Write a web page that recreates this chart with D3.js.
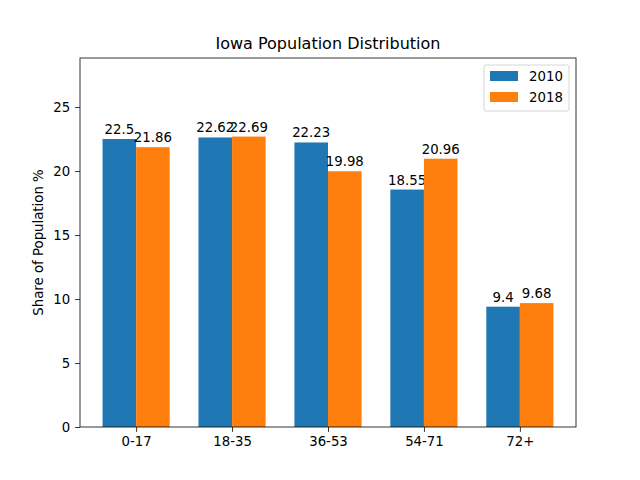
<!DOCTYPE html>
<html>
<head>
<meta charset="utf-8">
<script src="https://cdn.jsdelivr.net/npm/d3@7"></script>
<style>
  body { margin: 0; background: #fff; }
  text { font-family: "DejaVu Sans", sans-serif; }
</style>
</head>
<body>
<svg id="chart" width="640" height="480"></svg>
<script>
const groups = ["0-17", "18-35", "36-53", "54-71", "72+"];
const series = ["2010", "2018"];
const vals2010 = [22.5, 22.62, 22.23, 18.55, 9.4];
const vals2018 = [21.86, 22.69, 19.98, 20.96, 9.68];
const colors = ["#1f77b4", "#ff7f0e"];
const yTicks = [0, 5, 10, 15, 20, 25];

const svg = d3.select("#chart");
const mLeft = 80, mRight = 576, mTop = 58, mBottom = 427;
const barW = 0.35;

let xs = d3.scaleLinear([-0.585, 4.585], [mLeft, mRight]);
let ys = d3.scaleLinear([0, 22.69 * 1.2705], [mBottom, mTop]);

svg.append("rect").attr("width", 640).attr("height", 480).attr("fill", "#fff");

// bars
const allVals = [vals2010, vals2018];
allVals.forEach((vals, si) => {
    const off = si === 0 ? -barW / 2 : barW / 2;
    svg.selectAll(".bar" + si)
        .data(vals)
        .enter()
        .append("rect")
        .attr("class", "bar" + si)
        .attr("x", (d, i) => xs(i + off - barW / 2))
        .attr("width", xs(barW) - xs(0))
        .attr("y", d => ys(d))
        .attr("height", d => ys(0) - ys(d))
        .attr("fill", colors[si]);

    svg.selectAll(".lab" + si)
        .data(vals)
        .enter()
        .append("text")
        .attr("class", "lab" + si)
        .attr("x", (d, i) => xs(i + off))
        .attr("y", d => ys(d) - 5)
        .attr("text-anchor", "middle")
        .attr("font-size", "13.3px")
        .text(d => d);
});

// axes
const xAxis = d3.axisBottom(xs)
    .tickValues(d3.range(groups.length))
    .tickFormat(i => groups[i])
    .tickSize(4.9).tickPadding(4.9).tickSizeOuter(0);
const gx = svg.append("g").attr("transform", `translate(0,${mBottom})`).call(xAxis);

const yAxis = d3.axisLeft(ys)
    .tickValues(yTicks)
    .tickSize(4.9).tickPadding(4.9).tickSizeOuter(0);
const gy = svg.append("g").attr("transform", `translate(${mLeft},0)`).call(yAxis);

[gx, gy].forEach(g => {
    g.select(".domain").remove();
    g.selectAll("text").attr("font-size", "13.3px").attr("font-family", "DejaVu Sans").attr("fill", "#000");
    g.selectAll("line").attr("stroke", "#000").attr("stroke-width", 0.8);
});

// frame
svg.append("rect")
    .attr("x", mLeft).attr("y", mTop)
    .attr("width", mRight - mLeft).attr("height", mBottom - mTop)
    .attr("fill", "none").attr("stroke", "#000").attr("stroke-width", 0.8);

// title & labels
svg.append("text")
    .attr("x", (mLeft + mRight) / 2).attr("y", mTop - 9)
    .attr("text-anchor", "middle").attr("font-size", "16px")
    .text("Iowa Population Distribution");

svg.append("text")
    .attr("transform", `translate(${mLeft - 37},${(mTop + mBottom) / 2}) rotate(-90)`)
    .attr("text-anchor", "middle").attr("font-size", "13.3px")
    .text("Share of Population %");

// legend
const lg = svg.append("g").attr("transform", "translate(484,65)");
lg.append("rect").attr("width", 85).attr("height", 46).attr("rx", 2)
    .attr("fill", "#fff").attr("fill-opacity", 0.8)
    .attr("stroke", "#ccc").attr("stroke-width", 0.8);
series.forEach((s, i) => {
    lg.append("rect").attr("x", 6).attr("y", 6 + i * 21)
        .attr("width", 28).attr("height", 10).attr("fill", colors[i]);
    lg.append("text").attr("x", 45).attr("y", 15.5 + i * 21)
        .attr("font-size", "13.3px").text(s);
});
</script>
</body>
</html>
